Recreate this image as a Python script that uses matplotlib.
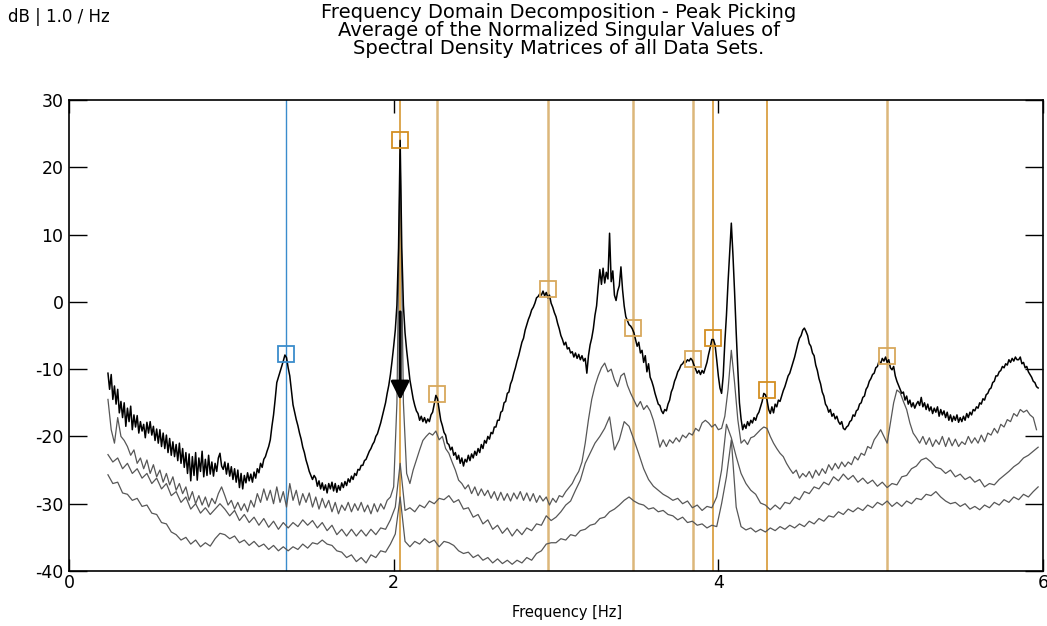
import numpy as np
import matplotlib
matplotlib.use("Agg")
import matplotlib.pyplot as plt

plt.rcParams['font.family'] = ['DejaVu Sans']
plt.rcParams['axes.unicode_minus'] = False

# ---------------------------------------------------------------------------
# Singular value spectra (dB), sampled on uniform frequency grids
# ---------------------------------------------------------------------------
SV1_START, SV1_STEP = 0.24, 0.01   # first singular value, 0.24 .. 5.97 Hz
sv1_db = [
    -10.6, -13.0, -10.8, -14.5, -12.5, -15.2, -13.0, -16.5, -14.8, -17.2,   # 0.24
    -15.0, -18.5, -15.8, -17.8, -15.5, -19.0, -16.8, -18.6, -16.9, -19.5,   # 0.34
    -17.8, -19.2, -18.2, -20.2, -17.9, -19.5, -17.8, -19.8, -18.5, -20.6,   # 0.44
    -18.9, -21.0, -19.0, -21.5, -19.5, -21.8, -19.8, -22.4, -20.3, -22.8,   # 0.54
    -20.8, -23.0, -21.2, -23.6, -21.0, -24.0, -21.8, -24.6, -22.4, -25.5,   # 0.64
    -22.6, -26.6, -23.0, -25.8, -22.4, -26.5, -23.2, -25.2, -22.2, -26.0,   # 0.74
    -23.4, -25.8, -22.8, -25.6, -23.8, -25.9, -24.0, -25.2, -23.2, -22.5,   # 0.84
    -24.4, -24.9, -23.8, -25.6, -24.0, -25.9, -24.5, -26.4, -24.8, -26.8,   # 0.94
    -25.0, -27.6, -25.5, -27.8, -25.8, -26.9, -25.4, -26.6, -25.6, -26.8,   # 1.04
    -25.3, -26.2, -24.8, -25.4, -24.0, -24.6, -23.4, -23.0, -22.2, -21.5,   # 1.14
    -20.5, -18.5, -16.8, -14.5, -12.0, -11.2, -10.4, -9.6, -8.8, -7.9,      # 1.24
    -8.3, -9.8, -11.0, -13.2, -15.3, -16.4, -17.5, -18.4, -19.5, -20.4,     # 1.34
    -21.6, -22.4, -23.5, -24.3, -25.2, -25.8, -26.4, -25.8, -26.2, -27.4,   # 1.44
    -26.6, -27.8, -26.9, -28.0, -27.2, -28.4, -27.0, -27.8, -26.8, -28.1,   # 1.54
    -27.0, -28.3, -27.3, -28.0, -26.9, -27.6, -26.7, -27.3, -26.3, -26.8,   # 1.64
    -25.9, -26.4, -25.5, -25.8, -24.9, -25.0, -24.3, -24.3, -23.6, -23.4,   # 1.74
    -22.8, -22.2, -21.8, -21.2, -20.8, -20.0, -19.6, -18.8, -18.0, -17.0,   # 1.84
    -16.0, -15.0, -13.6, -12.4, -10.8, -8.8, -6.6, -4.2, -0.5, 8.0,         # 1.94
    24.0, 8.0, -0.5, -4.6, -7.2, -9.4, -11.6, -13.0, -14.4, -15.4,          # 2.04
    -16.2, -16.6, -17.6, -17.0, -17.8, -17.2, -18.0, -17.4, -17.8, -16.8,   # 2.14
    -16.4, -15.2, -13.9, -14.4, -16.0, -17.6, -18.4, -19.4, -19.8, -21.0,   # 2.24
    -21.2, -22.0, -21.6, -22.8, -22.4, -23.4, -22.8, -24.0, -23.2, -24.4,   # 2.34
    -23.4, -23.8, -22.8, -23.6, -22.6, -23.2, -22.2, -22.8, -21.8, -22.4,   # 2.44
    -21.2, -21.8, -20.6, -21.0, -20.0, -20.4, -19.4, -19.6, -18.6, -18.6,   # 2.54
    -17.6, -17.6, -16.4, -16.2, -15.0, -14.8, -13.6, -13.4, -12.2, -11.6,   # 2.64
    -10.6, -9.8, -8.8, -8.0, -7.0, -6.0, -5.4, -4.2, -3.4, -2.6,            # 2.74
    -2.0, -1.2, -0.8, -0.2, 0.6, 0.8, 1.2, 1.0, 1.6, 0.9,                   # 2.84
    1.4, 0.6, 1.0, -0.2, -0.8, -1.6, -2.2, -3.2, -4.0, -5.0,                # 2.94
    -5.6, -6.4, -6.0, -7.0, -6.8, -7.6, -7.4, -8.2, -7.6, -8.4,             # 3.04
    -7.8, -8.6, -8.0, -8.8, -8.4, -10.6, -8.0, -6.4, -5.4, -4.0,            # 3.14
    -2.0, -0.6, 2.2, 4.8, 2.6, 5.0, 2.8, 4.4, 3.4, 10.2,                    # 3.24
    3.0, 4.6, 1.0, 0.2, 1.6, 2.4, 5.2, 1.8, -0.6, -2.2,                     # 3.34
    -2.8, -3.4, -3.6, -4.0, -4.6, -5.6, -6.6, -6.0, -7.6, -7.2,             # 3.44
    -9.0, -8.0, -10.4, -9.2, -11.2, -11.8, -12.6, -13.6, -14.4, -15.2,      # 3.54
    -15.4, -16.2, -16.6, -16.0, -16.2, -15.2, -14.6, -13.4, -12.8, -11.8,   # 3.64
    -11.2, -10.4, -10.0, -9.4, -9.2, -8.8, -9.0, -8.6, -8.8, -8.4,          # 3.74
    -8.7, -9.4, -10.0, -10.6, -10.2, -10.8, -10.2, -10.6, -9.8, -9.0,       # 3.84
    -7.8, -6.8, -5.6, -5.6, -6.4, -8.6, -11.0, -12.8, -13.6, -11.0,         # 3.94
    -6.0, -2.0, 3.0, 7.5, 11.7, 7.0, 1.5, -4.5, -10.0, -15.0,               # 4.04
    -17.4, -19.0, -18.2, -18.8, -17.8, -18.4, -17.6, -18.0, -17.2, -17.6,   # 4.14
    -16.8, -16.4, -15.6, -14.8, -13.6, -13.8, -14.6, -16.0, -16.6, -15.6,   # 4.24
    -16.5, -15.2, -15.6, -14.6, -14.8, -14.0, -13.2, -12.6, -11.8, -11.0,   # 4.34
    -10.6, -9.8, -9.0, -8.2, -7.2, -6.2, -5.4, -5.0, -4.2, -3.9,            # 4.44
    -4.4, -5.0, -6.2, -6.6, -7.6, -8.0, -9.4, -10.2, -11.4, -12.2,          # 4.54
    -13.4, -14.0, -15.2, -15.6, -16.4, -16.0, -17.0, -16.6, -17.4, -17.0,   # 4.64
    -17.8, -18.2, -17.8, -18.8, -19.0, -18.6, -18.4, -17.8, -17.6, -16.8,   # 4.74
    -17.0, -16.2, -16.0, -15.2, -15.0, -14.2, -14.0, -13.0, -12.6, -11.8,   # 4.84
    -11.4, -10.8, -10.6, -9.8, -9.6, -8.8, -9.2, -8.4, -8.8, -8.2,          # 4.94
    -9.0, -8.6, -9.8, -10.1, -9.6, -11.0, -11.8, -12.4, -13.0, -13.6,       # 5.04
    -13.4, -14.6, -14.0, -15.2, -14.6, -15.6, -15.0, -15.8, -15.2, -14.8,   # 5.14
    -15.4, -14.2, -15.6, -15.0, -16.0, -15.2, -16.2, -15.6, -16.6, -15.8,   # 5.24
    -16.4, -15.6, -17.0, -16.0, -16.8, -16.2, -17.2, -16.4, -17.6, -16.8,   # 5.34
    -17.8, -17.0, -17.6, -16.8, -17.9, -17.2, -17.8, -17.0, -17.6, -16.6,   # 5.44
    -17.2, -16.4, -16.8, -16.0, -16.2, -15.6, -15.8, -15.0, -15.2, -14.4,   # 5.54
    -14.6, -13.8, -13.6, -13.0, -12.8, -12.0, -11.8, -11.0, -11.0, -10.4,   # 5.64
    -10.2, -9.6, -9.8, -9.2, -9.4, -8.6, -9.0, -8.4, -8.8, -8.2,            # 5.74
    -8.6, -8.6, -8.2, -9.2, -9.0, -9.8, -9.6, -10.4, -10.8, -11.2,          # 5.84
    -11.8, -12.0, -12.6, -12.8,                                             # 5.94
]

SV2_START, SV2_STEP = 0.24, 0.02   # second singular value, 0.24 .. 5.96 Hz
sv2_db = [
    -14.5, -19.0, -21.0, -17.2, -20.0, -20.6, -21.5, -22.8, -22.0, -24.0,   # 0.24
    -23.2, -24.8, -23.5, -25.5, -24.2, -26.0, -25.0, -26.8, -25.5, -27.2,   # 0.44
    -26.0, -28.0, -27.0, -28.5, -27.5, -29.5, -28.2, -30.0, -28.8, -30.2,   # 0.64
    -29.0, -30.5, -29.2, -30.0, -28.5, -27.5, -28.8, -30.2, -29.5, -30.8,   # 0.84
    -29.8, -31.0, -30.0, -31.2, -29.5, -30.5, -28.5, -29.8, -27.8, -29.5,   # 1.04
    -28.0, -30.0, -27.5, -29.8, -28.2, -30.5, -27.0, -29.5, -28.0, -30.2,   # 1.24
    -28.5, -29.8, -28.4, -30.5, -29.0, -30.8, -29.2, -30.6, -29.5, -31.2,   # 1.44
    -29.8, -31.5, -30.2, -31.0, -29.8, -31.2, -30.0, -31.0, -29.8, -31.2,   # 1.64
    -30.2, -31.5, -30.0, -31.2, -30.0, -30.8, -29.5, -29.0, -27.5, -15.0,   # 1.84
    22.0, -15.0, -25.5, -27.0, -25.0, -23.5, -22.0, -20.6, -20.0, -19.5,    # 2.04
    -19.8, -19.2, -20.5, -20.0, -21.8, -22.5, -23.8, -25.0, -26.5, -27.0,   # 2.24
    -27.8, -27.2, -28.5, -27.5, -28.8, -27.8, -28.8, -28.0, -29.2, -28.2,   # 2.44
    -29.5, -28.3, -29.5, -28.5, -29.6, -28.4, -29.3, -28.2, -29.5, -28.4,   # 2.64
    -29.6, -28.5, -29.8, -28.8, -29.6, -29.0, -30.2, -29.2, -29.8, -28.8,   # 2.84
    -29.0, -28.2, -27.6, -27.0, -26.0, -25.2, -23.8, -21.0, -17.5, -14.5,   # 3.04
    -12.5, -11.0, -9.8, -9.1, -10.4, -10.0, -11.6, -12.6, -11.0, -10.6,     # 3.24
    -12.4, -13.6, -14.6, -15.6, -14.8, -16.0, -15.4, -16.2, -17.6, -19.5,   # 3.44
    -21.6, -20.5, -21.5, -20.5, -21.0, -20.2, -20.8, -19.8, -20.2, -19.5,   # 3.64
    -19.8, -18.8, -19.2, -18.0, -17.6, -18.0, -18.6, -18.2, -19.0, -18.8,   # 3.84
    -17.0, -13.0, -7.2, -12.0, -17.5, -21.0, -20.5, -21.2, -20.2, -20.0,    # 4.04
    -19.5, -19.0, -18.6, -18.8, -20.0, -21.0, -21.8, -22.5, -23.0, -24.0,   # 4.24
    -24.8, -25.5, -25.0, -26.2, -25.5, -26.0, -25.2, -26.2, -25.0, -25.8,   # 4.44
    -24.8, -25.5, -24.2, -25.0, -24.0, -24.8, -23.8, -24.5, -23.8, -24.2,   # 4.64
    -23.0, -23.5, -22.5, -22.8, -21.5, -21.8, -20.5, -19.8, -19.0, -20.0,   # 4.84
    -21.0, -18.0, -15.0, -13.1, -13.5, -14.8, -16.0, -18.0, -19.5, -20.2,   # 5.04
    -21.0, -20.0, -21.2, -20.2, -21.5, -20.5, -21.2, -20.0, -21.5, -20.2,   # 5.24
    -21.4, -20.4, -21.5, -20.8, -21.2, -20.0, -21.0, -20.2, -21.0, -19.8,   # 5.44
    -20.8, -19.5, -19.8, -18.8, -19.5, -18.2, -18.6, -17.5, -17.8, -16.6,   # 5.64
    -17.0, -16.0, -16.4, -16.1, -16.8, -17.2, -19.0,                        # 5.84
]

SV3_START, SV3_STEP = 0.24, 0.03   # third singular value, 0.24 .. 5.97 Hz
sv3_db = [
    -22.7, -23.8, -23.2, -24.8, -24.0, -25.5, -24.8, -26.2, -25.5, -27.0,   # 0.24
    -26.2, -27.8, -27.0, -28.8, -28.2, -29.8, -29.0, -30.8, -30.0, -31.4,   # 0.54
    -30.6, -31.6, -30.8, -30.0, -30.8, -31.8, -31.0, -32.5, -31.6, -32.8,   # 0.84
    -32.0, -33.2, -32.2, -33.5, -32.6, -33.8, -32.8, -33.6, -32.8, -33.4,   # 1.14
    -32.4, -33.2, -32.5, -33.6, -32.8, -34.0, -33.2, -34.6, -33.8, -34.8,   # 1.44
    -33.8, -34.8, -33.9, -34.8, -33.8, -34.6, -33.6, -33.8, -32.4, -30.5,   # 1.74
    -24.0, -31.0, -30.6, -31.2, -30.2, -30.6, -29.6, -30.0, -29.2, -29.4,   # 2.04
    -28.8, -29.8, -29.4, -30.8, -30.6, -32.0, -31.6, -33.0, -32.4, -33.8,   # 2.34
    -33.2, -34.4, -33.6, -34.8, -33.8, -34.6, -33.6, -34.0, -33.0, -33.2,   # 2.64
    -31.8, -32.5, -32.0, -31.2, -30.2, -29.6, -28.0, -26.5, -24.0, -22.5,   # 2.94
    -21.0, -20.0, -18.8, -17.1, -22.0, -20.5, -17.8, -18.5, -20.5, -22.6,   # 3.24
    -24.8, -26.4, -27.4, -28.0, -28.6, -29.0, -29.5, -29.2, -30.0, -29.6,   # 3.54
    -30.6, -30.2, -31.0, -30.4, -30.6, -29.0, -25.0, -18.2, -20.2, -23.0,   # 3.84
    -25.5, -27.0, -28.0, -28.6, -29.9, -30.2, -30.9, -30.2, -30.8, -29.8,   # 4.14
    -30.0, -29.0, -29.4, -28.2, -28.5, -27.5, -27.8, -26.8, -27.2, -26.0,   # 4.44
    -26.6, -25.6, -26.4, -25.8, -26.8, -26.2, -27.0, -26.5, -27.4, -26.8,   # 4.74
    -27.6, -27.0, -27.2, -26.0, -25.8, -24.8, -24.4, -23.5, -23.2, -23.8,   # 5.04
    -24.6, -24.8, -25.5, -25.0, -26.0, -25.6, -26.4, -26.0, -26.8, -26.4,   # 5.34
    -27.5, -27.0, -27.2, -26.4, -25.8, -25.2, -24.5, -24.0, -23.2, -22.8,   # 5.64
    -22.2, -21.6,                                                           # 5.94
]

SV4_START, SV4_STEP = 0.24, 0.03   # fourth singular value, 0.24 .. 5.97 Hz
sv4_db = [
    -25.7, -27.0, -26.8, -28.4, -28.6, -29.5, -29.2, -30.4, -30.2, -31.4,   # 0.24
    -31.6, -32.8, -33.0, -34.2, -34.6, -35.4, -35.0, -36.0, -35.4, -36.4,   # 0.54
    -35.8, -36.3, -35.2, -34.4, -34.6, -35.2, -34.8, -35.8, -35.4, -36.2,   # 0.84
    -35.6, -36.4, -36.0, -36.8, -36.2, -37.0, -36.4, -37.0, -36.4, -36.8,   # 1.14
    -36.0, -36.6, -35.8, -36.0, -35.4, -36.0, -36.2, -37.0, -37.2, -38.0,   # 1.44
    -37.6, -38.6, -38.0, -38.8, -37.6, -38.0, -37.0, -37.2, -36.0, -34.5,   # 1.74
    -29.0, -35.6, -36.4, -35.6, -36.0, -35.2, -35.8, -35.4, -36.4, -35.6,   # 2.04
    -35.8, -36.2, -37.0, -37.4, -37.2, -38.0, -37.6, -38.4, -38.0, -38.8,   # 2.34
    -38.2, -38.9, -38.4, -39.0, -38.4, -38.8, -38.0, -38.4, -37.4, -37.0,   # 2.64
    -36.0, -35.8, -35.8, -35.2, -35.4, -34.6, -34.8, -34.0, -33.8, -33.2,   # 2.94
    -33.0, -32.2, -32.0, -31.2, -30.8, -30.2, -29.5, -29.0, -29.6, -30.0,   # 3.24
    -30.2, -30.8, -30.6, -31.2, -31.0, -31.6, -31.8, -32.4, -32.0, -32.8,   # 3.54
    -32.6, -33.2, -33.0, -33.6, -33.2, -33.4, -30.0, -26.0, -20.5, -30.5,   # 3.84
    -33.4, -33.9, -33.6, -34.2, -33.8, -34.2, -33.6, -34.0, -33.4, -33.8,   # 4.14
    -33.2, -33.6, -33.0, -33.4, -32.6, -33.0, -32.2, -32.6, -31.8, -32.0,   # 4.44
    -31.2, -31.6, -30.8, -31.2, -30.6, -31.0, -30.2, -30.6, -29.8, -30.2,   # 4.74
    -29.6, -30.4, -29.8, -30.4, -29.6, -30.0, -29.2, -29.4, -28.6, -28.8,   # 5.04
    -28.2, -29.0, -29.6, -30.0, -29.8, -30.4, -30.0, -30.8, -30.4, -30.9,   # 5.34
    -30.2, -30.6, -29.8, -30.2, -29.4, -29.8, -29.0, -29.4, -28.6, -29.0,   # 5.64
    -28.2, -27.5,                                                           # 5.94
]

# Picked peaks: frequency (Hz), level (dB), style group
peak_hz = [1.334, 2.040, 2.267, 2.953, 3.476, 3.842, 3.969, 4.298, 5.037]
peak_db = [-7.75, 24.1, -13.7, 1.9, -3.85, -8.45, -5.4, -13.15, -8.05]
peak_kind = ["blue", "orange", "tan", "tan", "tan", "tan", "orange", "orange", "tan"]

# Arrow marking the selected mode
arrow_hz = 2.040
arrow_from_db, arrow_to_db = -1.5, -14.6

title_lines = [
    "Frequency Domain Decomposition - Peak Picking",
    "Average of the Normalized Singular Values of",
    "Spectral Density Matrices of all Data Sets.",
]
y_unit_label = "dB | 1.0 / Hz"
x_label = "Frequency [Hz]"
x_ticks = [0, 2, 4, 6]
y_ticks = [-40, -30, -20, -10, 0, 10, 20, 30]


def freq_grid(start, step, values):
    return np.round(start + step * np.arange(len(values)), 3)


LINE_STYLE = {
    "blue":   dict(color="#3a8ccc", lw=1.0),
    "orange": dict(color="#d38f22", lw=1.1),
    "tan":    dict(color="#dcb77a", lw=1.8),
}
MARK_COLOR = {"blue": "#3a8ccc", "orange": "#d38f22", "tan": "#d8a85c"}

W, H = 1047, 626
fig = plt.figure(figsize=(W / 100, H / 100), dpi=100)
ax = fig.add_axes([69 / W, 55 / H, 974 / W, 471 / H])

for f, kind in zip(peak_hz, peak_kind):
    ax.axvline(f, zorder=1, **LINE_STYLE[kind])

gray = "#575757"
ax.plot(freq_grid(SV4_START, SV4_STEP, sv4_db), sv4_db, color=gray, lw=0.9, zorder=2)
ax.plot(freq_grid(SV3_START, SV3_STEP, sv3_db), sv3_db, color=gray, lw=0.9, zorder=2)
ax.plot(freq_grid(SV2_START, SV2_STEP, sv2_db), sv2_db, color=gray, lw=0.9, zorder=2)
ax.plot(freq_grid(SV1_START, SV1_STEP, sv1_db), sv1_db, color="black", lw=1.1, zorder=3)

for f, v, kind in zip(peak_hz, peak_db, peak_kind):
    ax.plot([f], [v], marker="s", ms=11.5, mfc="none", mec=MARK_COLOR[kind],
            mew=1.3, zorder=5)

ax.annotate("", xy=(arrow_hz, arrow_to_db), xytext=(arrow_hz, arrow_from_db),
            arrowprops=dict(arrowstyle="-|>,head_length=0.8,head_width=0.4",
                            color="black", lw=2.2, shrinkA=0, shrinkB=0,
                            mutation_scale=14),
            zorder=6)

ax.set_xlim(0, 6)
ax.set_ylim(-40, 30)
ax.set_xticks(x_ticks)
ax.set_yticks(y_ticks)
ax.tick_params(axis="y", direction="in", length=13, width=1.0,
               left=True, right=True, labelsize=12.5, pad=4)
ax.tick_params(axis="x", direction="in", length=9, width=1.0,
               top=True, bottom=True, labelsize=12.5, pad=2)
for sp in ax.spines.values():
    sp.set_linewidth(1.2)

cx = 559 / W
for i, line in enumerate(title_lines):
    fig.text(cx, 1 - (12 + 18 * i) / H, line, ha="center", va="center", fontsize=14)
fig.text(8 / W, 1 - 17 / H, y_unit_label, ha="left", va="center", fontsize=12)
fig.text(567 / W, 1 - 612 / H, x_label, ha="center", va="center", fontsize=10.5)

fig.savefig("out.png", dpi=100)
